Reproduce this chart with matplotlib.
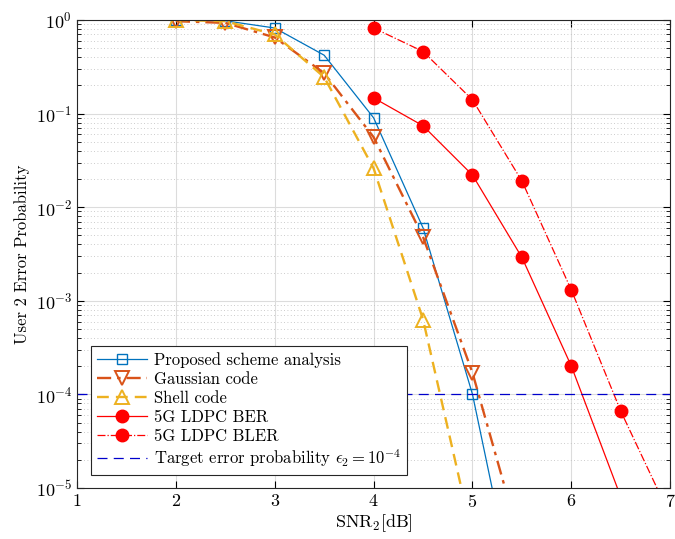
import matplotlib
matplotlib.use("Agg")
import matplotlib.pyplot as plt
from matplotlib.ticker import LogLocator, NullFormatter

matplotlib.rcParams.update({
    "font.family": "serif",
    "font.serif": ["cmr10", "DejaVu Serif"],
    "mathtext.fontset": "cm",
    "axes.unicode_minus": False,
    "axes.formatter.use_mathtext": True,
    "font.size": 13,
})

# SNR points (dB)
snr_main = [2, 2.5, 3, 3.5, 4, 4.5, 5, 5.5]
snr_shell = [2, 2.5, 3, 3.5, 4, 4.5, 5]
snr_ldpc = [4, 4.5, 5, 5.5, 6, 6.5, 7]

proposed = [1.0, 0.98, 0.82, 0.42, 0.09, 6.0e-3, 1.0e-4, 3.0e-7]
gaussian = [0.97, 0.93, 0.65, 0.27, 0.056, 4.8e-3, 1.7e-4, 2.3e-6]
shell = [1.0, 0.97, 0.70, 0.245, 0.026, 6.3e-4, 3.0e-6]
ldpc_ber = [0.147, 0.074, 0.022, 2.9e-3, 2.0e-4, 8.0e-6, 3.0e-7]
ldpc_bler = [0.82, 0.46, 0.14, 0.019, 1.3e-3, 6.6e-5, 5.0e-6]
target = 1e-4

fig = plt.figure(figsize=(6.75, 5.39), dpi=100)
ax = fig.add_axes([0.114, 0.0946, 0.879, 0.8684])

ax.semilogy(snr_main, proposed, "-", color="#0072BD", lw=0.9,
            marker="s", ms=7, mfc="none", mew=1.0,
            label="Proposed scheme analysis")
ax.semilogy(snr_main, gaussian, color="#D95319", lw=1.7,
            ls=(0, (6, 2.5, 1.5, 2.5)),
            marker="v", ms=9.5, mfc="none", mew=1.4,
            label="Gaussian code")
ax.semilogy(snr_shell, shell, color="#EDB120", lw=1.7, ls=(0, (5, 3)),
            marker="^", ms=9.5, mfc="none", mew=1.4,
            label="Shell code")
ax.semilogy(snr_ldpc, ldpc_ber, "-", color="red", lw=0.9,
            marker="o", ms=9, mfc="red", mec="red",
            label="5G LDPC BER")
ax.semilogy(snr_ldpc, ldpc_bler, "-.", color="red", lw=0.9,
            marker="o", ms=9, mfc="red", mec="red",
            label="5G LDPC BLER")
ax.axhline(target, color="#0000CC", lw=0.9, ls=(0, (8, 5)),
           label=r"Target error probability $\epsilon_2=10^{-4}$")

ax.set_xlim(1, 7)
ax.set_ylim(1e-5, 1)
ax.set_xticks([1, 2, 3, 4, 5, 6, 7])
ax.yaxis.set_major_locator(LogLocator(base=10, numticks=10))
ax.yaxis.set_minor_locator(LogLocator(base=10, subs=range(2, 10), numticks=20))
ax.yaxis.set_minor_formatter(NullFormatter())

ax.set_xlabel(r"SNR$_2$[dB]", labelpad=2)
ax.set_ylabel("User 2 Error Probability", fontsize=12)

ax.grid(True, which="major", color="#dcdcdc", lw=0.8)
ax.grid(True, which="minor", axis="y", color="#bbbbbb", lw=0.6, ls=(0, (1, 3)))
ax.set_axisbelow(True)

ax.tick_params(which="both", direction="in", top=True, right=True)
ax.tick_params(which="major", length=5, width=0.8)
ax.tick_params(which="minor", length=3, width=0.6)
for s in ax.spines.values():
    s.set_color("#262626")
    s.set_linewidth(0.8)

leg = ax.legend(loc="lower left", bbox_to_anchor=(0.024, 0.028),
                borderaxespad=0, fontsize=12, frameon=True, fancybox=False,
                framealpha=1, edgecolor="#262626", handlelength=3.0,
                borderpad=0.35, labelspacing=0.22, handletextpad=0.4)
leg.get_frame().set_linewidth(0.8)

fig.savefig("out.png", dpi=100, facecolor="white")
